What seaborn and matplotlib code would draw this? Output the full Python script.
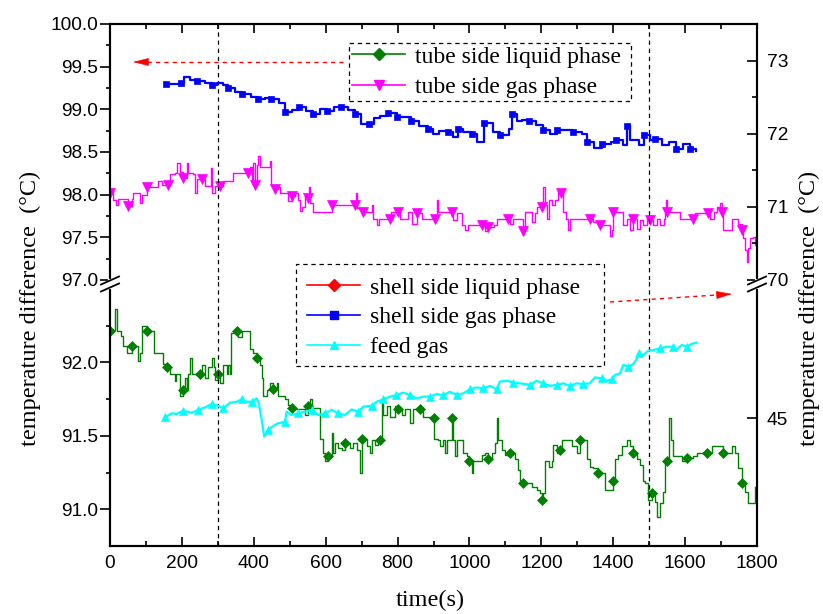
import numpy as np
import matplotlib
matplotlib.use("Agg")
import matplotlib.pyplot as plt
import seaborn as sns
from matplotlib.lines import Line2D
from matplotlib.patches import Rectangle, FancyArrowPatch
from matplotlib.ticker import MultipleLocator, FixedLocator, FormatStrFormatter

plt.rcParams['font.family'] = ['Liberation Sans', 'DejaVu Sans']
plt.rcParams['axes.linewidth'] = 1.5
SERIF = ['Liberation Serif', 'DejaVu Serif']

# ---------------- data ----------------
# tube side gas phase (left axis, upper panel)
tube_gas_t = [0, 5, 9, 18, 23, 46, 51, 60, 65, 79, 83, 88, 102, 130, 134, 144, 162, 167, 181, 186,
              195, 204, 213, 218, 232, 236, 241, 255, 264, 278, 281, 283, 292, 306, 315, 338, 343, 385, 389, 394,
              399, 403, 408, 413, 417, 440, 445, 447, 459, 468, 473, 491, 496, 505, 515, 524, 529, 533, 542, 552,
              554, 556, 566, 598, 617, 682, 684, 686, 705, 728, 733, 742, 747, 779, 782, 802, 807, 830, 839, 853,
              867, 904, 909, 911, 913, 951, 955, 965, 978, 988, 997, 1034, 1043, 1053, 1067, 1076, 1108, 1113, 1122, 1145,
              1150, 1155, 1169, 1173, 1183, 1187, 1201, 1206, 1210, 1215, 1220, 1229, 1238, 1247, 1254, 1261, 1270, 1275, 1280, 1335,
              1345, 1363, 1386, 1391, 1396, 1400, 1424, 1428, 1437, 1447, 1456, 1465, 1475, 1484, 1493, 1502, 1512, 1521, 1530, 1540,
              1544, 1547, 1551, 1581, 1586, 1623, 1628, 1665, 1669, 1679, 1688, 1697, 1704, 1706, 1725, 1730, 1748, 1757, 1762, 1767,
              1771, 1776, 1781, 1790, 1795]
tube_gas_v = [98.02, 98.07, 97.94, 97.88, 97.95, 97.95, 97.87, 97.95, 98.02, 98.02, 97.90, 98.00, 98.09, 98.09, 98.16, 98.11, 98.11, 98.24, 98.25, 98.37,
              98.27, 98.19, 98.37, 98.25, 98.24, 98.02, 98.18, 98.18, 98.10, 98.10, 98.31, 98.02, 98.10, 98.10, 98.16, 98.16, 98.25, 98.25, 98.33, 98.17,
              98.37, 98.11, 98.35, 98.45, 98.33, 98.33, 98.39, 98.11, 98.07, 98.09, 98.02, 98.02, 97.92, 97.98, 98.02, 97.94, 97.81, 97.86, 97.98, 97.96,
              98.09, 97.90, 97.80, 97.80, 97.88, 97.88, 98.02, 97.84, 97.80, 97.88, 97.72, 97.64, 97.72, 97.72, 97.80, 97.80, 97.72, 97.80, 97.66, 97.78,
              97.72, 97.72, 97.80, 97.94, 97.80, 97.80, 97.70, 97.78, 97.64, 97.59, 97.64, 97.64, 97.57, 97.62, 97.64, 97.72, 97.72, 97.66, 97.72, 97.72,
              97.57, 97.80, 97.80, 97.68, 97.78, 97.86, 97.86, 98.09, 97.88, 97.72, 97.94, 97.88, 97.94, 98.04, 98.02, 97.80, 97.72, 97.59, 97.72, 97.72,
              97.68, 97.64, 97.64, 97.51, 97.59, 97.80, 97.80, 97.64, 97.72, 97.59, 97.72, 97.60, 97.70, 97.64, 97.72, 97.70, 97.64, 97.72, 97.64, 97.72,
              97.80, 97.94, 97.80, 97.80, 97.72, 97.72, 97.79, 97.79, 97.72, 97.80, 97.86, 97.90, 97.80, 97.59, 97.59, 97.72, 97.66, 97.59, 97.49, 97.35,
              97.21, 97.37, 97.49, 97.50, 97.41]

# shell side gas phase (right axis, upper panel)
shell_gas_t = [156, 197, 205, 222, 241, 265, 285, 299, 314, 328, 348, 367, 391, 411, 430, 449, 469, 488, 507, 527,
               546, 566, 585, 604, 624, 643, 663, 682, 697, 721, 735, 750, 774, 798, 818, 837, 861, 886, 900, 915,
               939, 953, 968, 983, 1007, 1021, 1041, 1065, 1084, 1109, 1118, 1133, 1147, 1167, 1186, 1205, 1225, 1244, 1268, 1288,
               1312, 1327, 1346, 1370, 1394, 1409, 1428, 1438, 1448, 1472, 1487, 1501, 1516, 1535, 1554, 1574, 1593, 1613, 1630]
shell_gas_v = [72.68, 72.70, 72.77, 72.73, 72.72, 72.69, 72.66, 72.70, 72.67, 72.62, 72.57, 72.54, 72.50, 72.48, 72.49, 72.47, 72.42, 72.30, 72.32, 72.36,
               72.31, 72.27, 72.34, 72.31, 72.36, 72.37, 72.32, 72.27, 72.13, 72.13, 72.21, 72.24, 72.29, 72.23, 72.23, 72.18, 72.11, 72.07, 72.00, 72.04,
               72.03, 71.96, 72.07, 72.03, 72.00, 71.89, 72.15, 72.03, 71.98, 72.06, 72.27, 72.18, 72.19, 72.17, 72.12, 72.05, 72.00, 72.05, 72.05, 72.03,
               72.00, 71.88, 71.81, 71.86, 71.88, 71.91, 71.84, 72.10, 71.91, 71.84, 71.98, 71.91, 71.93, 71.84, 71.89, 71.79, 71.86, 71.79, 71.77]

# tube side liquid phase (left axis, lower panel)
tube_liq_t = [0, 6, 14, 19, 28, 31, 37, 46, 60, 74, 77, 83, 88, 102, 120, 123, 139, 148, 158, 167,
              176, 181, 185, 195, 204, 209, 213, 218, 223, 227, 241, 250, 255, 264, 273, 283, 288, 292, 300, 306,
              315, 325, 329, 334, 338, 352, 357, 366, 385, 389, 399, 408, 417, 422, 427, 436, 445, 454, 464, 468,
              482, 487, 496, 505, 515, 533, 542, 552, 556, 561, 580, 584, 593, 598, 607, 617, 621, 626, 635, 645,
              654, 668, 677, 686, 696, 700, 714, 723, 728, 737, 745, 751, 756, 760, 770, 779, 793, 802, 811, 821,
              835, 844, 863, 872, 890,
              900, 901, 913, 918, 927, 932, 937, 948, 951, 953, 960, 965, 978, 983, 992, 1000, 1006, 1011, 1029, 1034,
              1043, 1053, 1062, 1071, 1076, 1080, 1090, 1099, 1113, 1127, 1136, 1141, 1150, 1164, 1173, 1187, 1196, 1201, 1206, 1210,
              1220, 1229, 1233, 1243, 1252, 1257, 1280, 1284, 1298, 1308, 1317, 1326, 1335, 1345, 1359, 1373, 1377, 1396, 1400, 1405,
              1414, 1424, 1437, 1447, 1456, 1465, 1475, 1484, 1488, 1498, 1507, 1516, 1523, 1530, 1538, 1544, 1551, 1556, 1560, 1567,
              1577, 1590, 1604, 1623, 1632, 1646, 1660, 1674, 1697, 1706, 1720, 1730, 1739, 1748, 1757, 1767, 1776, 1785, 1795]
tube_liq_v = [92.21, 92.22, 92.36, 92.21, 92.21, 92.18, 92.11, 92.06, 92.11, 92.11, 92.01, 92.06, 92.25, 92.21, 92.21, 92.06, 92.06, 91.99, 91.97, 91.92,
              91.92, 91.87, 91.92, 91.77, 91.81, 91.89, 91.81, 91.92, 92.03, 91.92, 91.92, 91.92, 91.98, 91.89, 91.97, 92.03, 91.97, 91.88, 91.92, 91.86,
              91.98, 91.92, 91.98, 91.92, 92.20, 92.21, 92.17, 92.21, 92.21, 92.09, 92.06, 92.03, 91.98, 91.89, 91.77, 91.81, 91.86, 91.82, 91.86, 91.77,
              91.77, 91.75, 91.71, 91.69, 91.68, 91.68, 91.64, 91.70, 91.75, 91.69, 91.69, 91.48, 91.38, 91.33, 91.36, 91.52, 91.38, 91.45, 91.42, 91.40,
              91.45, 91.42, 91.45, 91.40, 91.25, 91.48, 91.43, 91.38, 91.47, 91.44, 91.47, 91.47, 91.73, 91.64, 91.70, 91.63, 91.70, 91.68, 91.64, 91.68,
              91.59, 91.68, 91.68, 91.63, 91.63,
              91.62, 91.48, 91.47, 91.43, 91.47, 91.38, 91.47, 91.47, 91.62, 91.47, 91.36, 91.47, 91.47, 91.38, 91.36, 91.33, 91.25, 91.33, 91.33, 91.37,
              91.38, 91.34, 91.38, 91.45, 91.62, 91.47, 91.40, 91.37, 91.38, 91.34, 91.27, 91.19, 91.18, 91.18, 91.15, 91.13, 91.11, 91.06, 91.11, 91.33,
              91.29, 91.33, 91.44, 91.38, 91.40, 91.47, 91.47, 91.43, 91.38, 91.47, 91.47, 91.34, 91.29, 91.28, 91.25, 91.25, 91.13, 91.13, 91.19, 91.34,
              91.37, 91.43, 91.47, 91.43, 91.38, 91.34, 91.30, 91.19, 91.18, 91.06, 91.11, 91.05, 90.95, 91.04, 91.12, 91.33, 91.33, 91.62, 91.47, 91.36,
              91.36, 91.33, 91.35, 91.36, 91.38, 91.38, 91.38, 91.43, 91.43, 91.38, 91.38, 91.43, 91.38, 91.28, 91.18, 91.12, 91.04, 91.04, 91.15]

# feed gas (right axis, lower panel)
feed_gas_t = [153, 172, 185, 204, 227, 246, 264, 283, 301, 315, 334, 352, 366, 380, 394, 408, 414, 422, 429, 440,
              454, 468, 487, 491, 505, 524, 542, 561, 580, 598, 617, 635, 654, 672, 691, 705, 728, 742, 760, 779,
              797, 816, 835, 853, 872, 890, 909, 927, 946, 965, 983, 1002, 1020, 1039, 1057, 1076, 1085, 1104, 1122, 1141,
              1169, 1187, 1206, 1224, 1243, 1261, 1280, 1298, 1317, 1335, 1349, 1368, 1382, 1396, 1405, 1419, 1428, 1442, 1456, 1465,
              1473, 1484, 1498, 1512, 1530, 1549, 1567, 1577, 1591, 1604, 1618, 1632]
feed_gas_v = [45.03, 45.19, 45.16, 45.29, 45.21, 45.32, 45.42, 45.55, 45.48, 45.38, 45.60, 45.64, 45.73, 45.64, 45.64, 45.77, 45.58, 44.93, 44.28, 44.54,
              44.69, 44.80, 44.86, 45.25, 45.12, 45.19, 45.25, 45.32, 45.12, 45.19, 45.32, 45.19, 45.12, 45.34, 45.25, 45.45, 45.48, 45.64, 45.73, 45.84,
              45.90, 46.00, 45.90, 45.77, 45.84, 45.84, 45.94, 45.90, 46.03, 45.90, 45.97, 46.13, 46.20, 46.16, 46.26, 46.13, 46.43, 46.46, 46.39, 46.36,
              46.30, 46.46, 46.36, 46.26, 46.30, 46.36, 46.26, 46.36, 46.33, 46.36, 46.59, 46.56, 46.46, 46.52, 46.69, 46.75, 47.08, 47.01, 47.12, 47.30,
              47.53, 47.47, 47.64, 47.66, 47.73, 47.79, 47.79, 47.69, 47.86, 47.79, 47.90, 47.95]

event_times = [300, 1500]
x_ticks = [0, 200, 400, 600, 800, 1000, 1200, 1400, 1600, 1800]
top_left_ticks = [97.0, 97.5, 98.0, 98.5, 99.0, 99.5, 100.0]
top_right_ticks = [70, 71, 72, 73]
bottom_left_ticks = [91.0, 91.5, 92.0]
bottom_right_ticks = [45]
top_labels = ["tube side liquid phase", "tube side gas phase"]
bottom_labels = ["shell side liquid phase", "shell side gas phase", "feed gas"]
x_label = "time(s)"
y_label = "temperature difference  (\u00b0C)"

# ---------------- layout ----------------
W, H = 823, 614
fig = plt.figure(figsize=(W / 100, H / 100), dpi=100)
fx = lambda px: px / W
fy = lambda py: 1 - py / H
L, R, T, M, B = 110, 757, 24, 280, 546

ax_top = fig.add_axes([fx(L), fy(M), (R - L) / W, (M - T) / H])
ax_bot = fig.add_axes([fx(L), fy(B), (R - L) / W, (B - M) / H])
ax_top_r = ax_top.twinx()
ax_bot_r = ax_bot.twinx()

GREEN, MAGENTA, RED, BLUE, CYAN = '#008000', '#FF00FF', '#FF0000', '#0000FF', '#00FFFF'


def marker_positions(t, step):
    t = np.asarray(t, float)
    targets = np.arange(t[0], t[-1] + 1e-9, step)
    return sorted(set(np.clip(np.searchsorted(t, targets), 0, len(t) - 1).tolist()))


def draw(ax, t, v, color, marker, ms, lw, step, drawstyle):
    sns.lineplot(x=t, y=v, ax=ax, color=color, lw=lw, marker=marker, markersize=ms,
                 markevery=marker_positions(t, step), markerfacecolor=color,
                 markeredgecolor=color, markeredgewidth=0.5, drawstyle=drawstyle,
                 estimator=None, sort=False, errorbar=None)


for ax in (ax_top, ax_bot):
    for xv in event_times:
        ax.axvline(xv, color='k', lw=0.9, ls=(0, (3.5, 3)), zorder=5)

draw(ax_top, tube_gas_t, tube_gas_v, MAGENTA, 'v', 7, 1.0, 50, 'steps-post')
draw(ax_top_r, shell_gas_t, shell_gas_v, BLUE, 's', 5, 1.6, 40, 'steps-post')
draw(ax_bot, tube_liq_t, tube_liq_v, GREEN, 'D', 5.5, 1.0, 50, 'steps-post')
draw(ax_bot_r, feed_gas_t, feed_gas_v, CYAN, '^', 5.5, 1.6, 40, 'default')

for ax in (ax_top, ax_bot, ax_top_r, ax_bot_r):
    ax.set_xlim(0, 1800)
    ax.set_xlabel('')
    ax.set_ylabel('')

ax_top.set_ylim(97, 100)
ax_top_r.set_ylim(70, 73.5)
ax_bot.set_ylim(90.75, 92.56)
ax_bot_r.set_ylim(40, 50.4)

# spines
for ax in (ax_top, ax_top_r):
    ax.spines['bottom'].set_visible(False)
for ax in (ax_bot, ax_bot_r):
    ax.spines['top'].set_visible(False)

# x ticks
for ax in (ax_top, ax_bot):
    ax.xaxis.set_major_locator(FixedLocator(x_ticks))
    ax.xaxis.set_minor_locator(MultipleLocator(100))
    ax.tick_params(axis='x', which='major', length=6.5, width=1.2)
    ax.tick_params(axis='x', which='minor', length=3.5, width=1.2)
ax_top.tick_params(axis='x', which='both', direction='in', top=True, bottom=False,
                   labeltop=False, labelbottom=False)
ax_bot.tick_params(axis='x', which='both', direction='in', top=False, bottom=True,
                   labelbottom=True, labelsize=13.8, pad=6.5)

# left y ticks
ax_top.yaxis.set_major_locator(FixedLocator(top_left_ticks))
ax_top.yaxis.set_minor_locator(FixedLocator([97.25, 97.75, 98.25, 98.75, 99.25, 99.75]))
ax_bot.yaxis.set_major_locator(FixedLocator(bottom_left_ticks))
ax_bot.yaxis.set_minor_locator(FixedLocator([91.25, 91.75, 92.25]))
for ax in (ax_top, ax_bot):
    ax.yaxis.set_major_formatter(FormatStrFormatter('%.1f'))
    ax.tick_params(axis='y', which='both', direction='out', left=True, right=False,
                   labelsize=13.8, pad=1.5, width=1.2)
    ax.tick_params(axis='y', which='major', length=7)
    ax.tick_params(axis='y', which='minor', length=3)

# right y ticks
ax_top_r.yaxis.set_major_locator(FixedLocator(top_right_ticks))
ax_top_r.yaxis.set_minor_locator(FixedLocator([70.5, 71.5, 72.5]))
ax_bot_r.yaxis.set_major_locator(FixedLocator(bottom_right_ticks))
ax_bot_r.yaxis.set_minor_locator(FixedLocator([]))
for ax in (ax_top_r, ax_bot_r):
    ax.yaxis.set_major_formatter(FormatStrFormatter('%d'))
    ax.tick_params(axis='y', which='both', direction='in', right=True, left=False,
                   labelsize=13.8, pad=7, width=1.2)
    ax.tick_params(axis='y', which='major', length=7)
    ax.tick_params(axis='y', which='minor', length=3.5)

# axis labels
fig.text(fx(430), fy(600), x_label, ha='center', va='center', family=SERIF, fontsize=17.5)
fig.text(fx(30), fy(308), y_label, ha='center', va='center', rotation=90, family=SERIF, fontsize=17.5)
fig.text(fx(809), fy(308), y_label, ha='center', va='center', rotation=90, family=SERIF, fontsize=17.5)

# legends
leg_font = {'family': SERIF, 'size': 17}
top_handles = [Line2D([], [], color=GREEN, lw=1.2, marker='D', ms=6, mfc=GREEN, mec=GREEN),
               Line2D([], [], color=MAGENTA, lw=1.2, marker='v', ms=7, mfc=MAGENTA, mec=MAGENTA)]
bottom_handles = [Line2D([], [], color=RED, lw=1.2, marker='D', ms=6, mfc=RED, mec=RED),
                  Line2D([], [], color=BLUE, lw=1.2, marker='s', ms=5.5, mfc=BLUE, mec=BLUE),
                  Line2D([], [], color=CYAN, lw=1.2, marker='^', ms=6, mfc=CYAN, mec=CYAN)]
fig.legend(top_handles, top_labels, loc='upper left', bbox_to_anchor=(fx(352), fy(46)),
           frameon=False, borderpad=0, borderaxespad=0, handlelength=2.25,
           handletextpad=0.4, labelspacing=0.37, prop=leg_font)
fig.legend(bottom_handles, bottom_labels, loc='upper left', bbox_to_anchor=(fx(307), fy(277)),
           frameon=False, borderpad=0, borderaxespad=0, handlelength=2.25,
           handletextpad=0.4, labelspacing=0.35, prop=leg_font)
fig.add_artist(Rectangle((fx(349), fy(101)), (631 - 349) / W, (101 - 43) / H, transform=fig.transFigure,
                         fill=False, ec='k', lw=0.9, ls=(0, (3.5, 3))))
fig.add_artist(Rectangle((fx(296), fy(366)), (604 - 296) / W, (366 - 264) / H, transform=fig.transFigure,
                         fill=False, ec='k', lw=0.9, ls=(0, (3.5, 3))))


# red dashed arrows
def dashed_arrow(p0, p1, head=13):
    x0, y0 = p0
    x1, y1 = p1
    d = np.hypot(x1 - x0, y1 - y0)
    ux, uy = (x1 - x0) / d, (y1 - y0) / d
    hx, hy = x1 - head * ux, y1 - head * uy
    fig.add_artist(Line2D([fx(x0), fx(hx)], [fy(y0), fy(hy)], transform=fig.transFigure,
                          color=RED, lw=1.0, ls=(0, (3, 3))))
    fig.add_artist(FancyArrowPatch((fx(hx), fy(hy)), (fx(x1), fy(y1)), transform=fig.transFigure,
                                   arrowstyle='-|>,head_length=1.0,head_width=0.25',
                                   mutation_scale=10, color=RED, lw=0.5, shrinkA=0, shrinkB=0))


dashed_arrow((343, 62), (133, 62))
dashed_arrow((610, 302), (732, 294))


# axis break marks
def break_mark(xc, yc):
    fig.add_artist(Line2D([fx(xc), fx(xc)], [fy(yc - 3), fy(yc + 3)], color='white', lw=3,
                          transform=fig.transFigure, zorder=10))
    for dy in (-3.5, 3.5):
        fig.add_artist(Line2D([fx(xc - 9), fx(xc + 9)], [fy(yc + dy + 4), fy(yc + dy - 4)],
                              color='k', lw=1.3, transform=fig.transFigure, zorder=11))


break_mark(L, 284)
break_mark(R, 284)

fig.savefig('out.png', dpi=100)
